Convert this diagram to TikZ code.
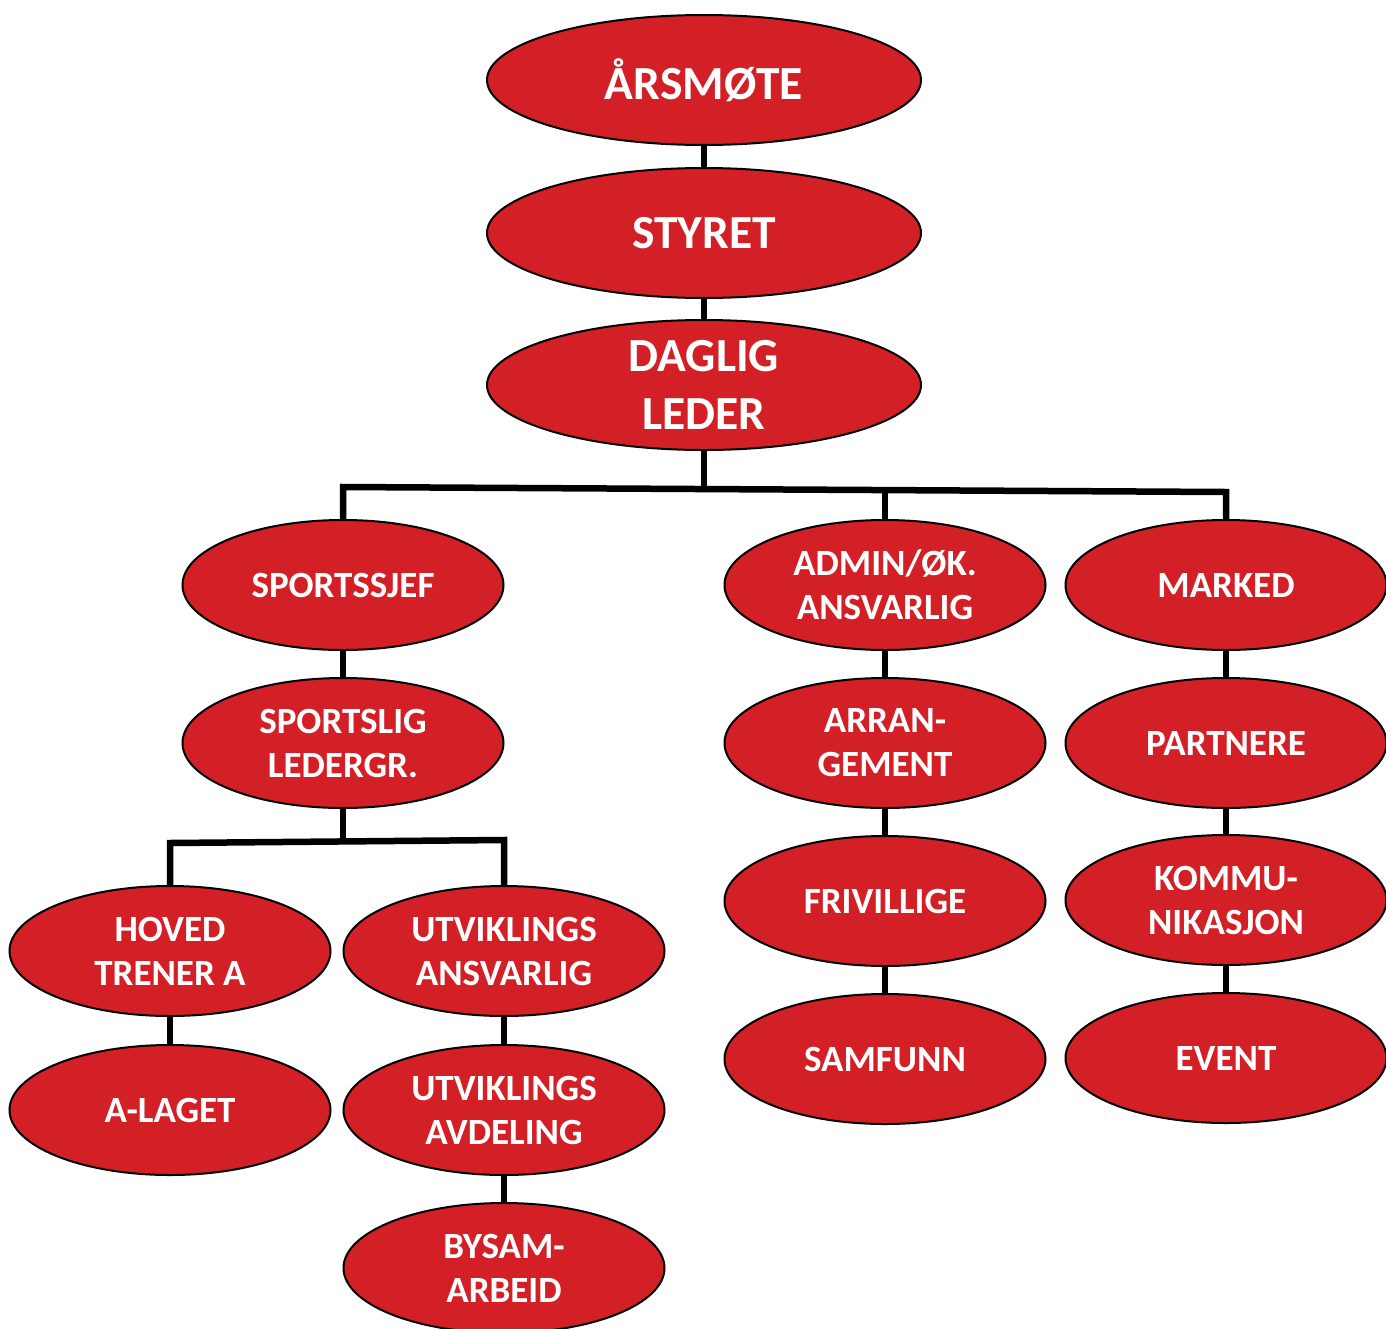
\documentclass[tikz,border=0pt]{standalone}
\usepackage{fontspec}
\setmainfont{Carlito}
\usetikzlibrary{shapes.geometric}
\definecolor{clubred}{RGB}{211,32,39}

\tikzset{
  oval/.style={ellipse, draw=black, line width=2pt, fill=clubred, text=white,
    align=center, inner sep=0pt, minimum width=321pt, minimum height=130pt,
    font=\fontsize{37}{44}\selectfont\bfseries},
  topoval/.style={oval, minimum width=434pt,
    font=\fontsize{47.5}{58}\selectfont\bfseries},
  link/.style={line width=6.5pt, line join=miter}
}

\begin{document}
\begin{tikzpicture}[x=1pt,y=-1pt]
  \useasboundingbox (0,0) rectangle (1386,1328); %Picture frame

  \node[topoval] (arsmote) at (704,80)  {ÅRSMØTE};        %Top level
  \node[topoval] (styret)  at (704,233) {STYRET};         %Board
  \node[topoval] (daglig)  at (704,385) {DAGLIG\\LEDER};  %Manager

  \node[oval] (sjef)   at (343,585)  {SPORTSSJEF};          %Left column
  \node[oval] (ledgr)  at (343,743)  {SPORTSLIG\\LEDERGR.};
  \node[oval] (hoved)  at (170,951)  {HOVED\\TRENER A};
  \node[oval] (alaget) at (170,1110) {A-LAGET};
  \node[oval] (utvans) at (504,951)  {UTVIKLINGS\\ANSVARLIG};
  \node[oval] (utvavd) at (504,1110) {UTVIKLINGS\\AVDELING};
  \node[oval] (bysam)  at (504,1268) {BYSAM-\\ARBEID};

  \node[oval] (admin)  at (885,585)  {ADMIN/ØK.\\ANSVARLIG}; %Middle column
  \node[oval] (arran)  at (885,743)  {ARRAN-\\GEMENT};
  \node[oval] (friv)   at (885,901)  {FRIVILLIGE};
  \node[oval] (samf)   at (885,1059) {SAMFUNN};

  \node[oval] (marked) at (1226,585)  {MARKED};             %Right column
  \node[oval] (partn)  at (1226,743)  {PARTNERE};
  \node[oval] (komm)   at (1226,900)  {KOMMU-\\NIKASJON};
  \node[oval] (event)  at (1226,1058) {EVENT};

  \coordinate (busL) at (343,487);  %Upper bus
  \coordinate (busM) at (704,489);
  \coordinate (busA) at (885,491);
  \coordinate (busR) at (1226,492);
  \coordinate (subL) at (170,843);  %Lower bus
  \coordinate (subM) at (343,842);
  \coordinate (subR) at (504,840);

  \draw[link] (arsmote) -- (styret);  %Top chain
  \draw[link] (styret) -- (daglig);
  \draw[link] (daglig) -- (busM);
  \draw[link] (sjef.north) -- (busL) -- (busR) -- (marked.north); %Upper bus
  \draw[link] (busA) -- (admin.north);

  \draw[link] (sjef) -- (ledgr);      %Left branch
  \draw[link] (ledgr) -- (subM);
  \draw[link] (hoved.north) -- (subL) -- (subR) -- (utvans.north); %Lower bus
  \draw[link] (hoved) -- (alaget);
  \draw[link] (utvans) -- (utvavd);
  \draw[link] (utvavd) -- (bysam);

  \draw[link] (admin) -- (arran);     %Middle branch
  \draw[link] (arran) -- (friv);
  \draw[link] (friv) -- (samf);

  \draw[link] (marked) -- (partn);    %Right branch
  \draw[link] (partn) -- (komm);
  \draw[link] (komm) -- (event);
\end{tikzpicture}
\end{document}
